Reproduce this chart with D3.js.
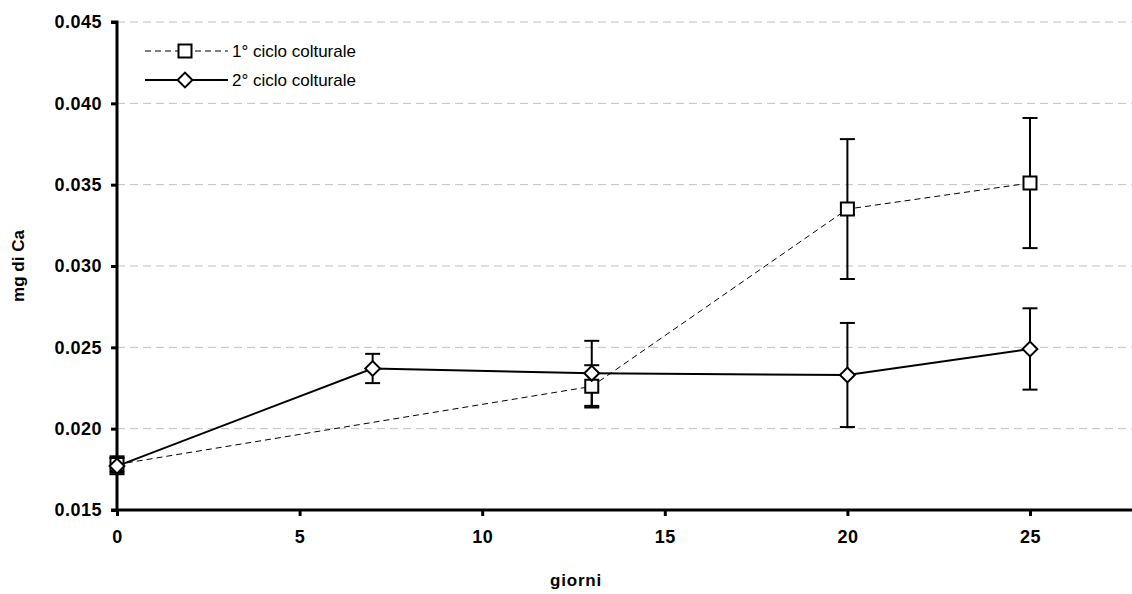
<!DOCTYPE html>
<html>
<head>
<meta charset="utf-8">
<script src="https://cdn.jsdelivr.net/npm/d3@7"></script>
<style>
  body { margin: 0; background: #fff; }
  svg { display: block; font-family: "Liberation Sans", Arial, sans-serif; }
</style>
</head>
<body>
<svg id="chart" width="1132" height="594"></svg>
<script>
// data
var days1 = [0, 13, 20, 25];            // 1° ciclo colturale
var mean1 = [0.0178, 0.0226, 0.0335, 0.0351];
var err1  = [0.0005, 0.0013, 0.0043, 0.0040];

var days2 = [0, 7, 13, 20, 25];         // 2° ciclo colturale
var mean2 = [0.0177, 0.0237, 0.0234, 0.0233, 0.0249];
var err2  = [0.0005, 0.0009, 0.0020, 0.0032, 0.0025];

var yTicks = [0.015, 0.020, 0.025, 0.030, 0.035, 0.040, 0.045];
var xTicks = [0, 5, 10, 15, 20, 25];
var seriesNames = ["1° ciclo colturale", "2° ciclo colturale"];

var svg = d3.select("#chart");
var mLeft = 117, mTop = 22, mBottom = 510;

var x = d3.scaleLinear().domain([0, 28]).range([mLeft, mLeft + 28 * 36.52]);
var y = d3.scaleLinear().domain([0.015, 0.045]).range([mBottom, mTop]);

var s1 = days1.map((d, i) => ({x: d, y: mean1[i], e: err1[i]}));
var s2 = days2.map((d, i) => ({x: d, y: mean2[i], e: err2[i]}));

// dashed gridlines
svg.append("g")
  .selectAll("line")
  .data(yTicks.slice(1))
  .join("line")
  .attr("x1", mLeft).attr("x2", 1132)
  .attr("y1", d => y(d)).attr("y2", d => y(d))
  .attr("stroke", "#c0c0c0")
  .attr("stroke-width", 1)
  .attr("stroke-dasharray", "8,5");

// axes
var yAxis = svg.append("g")
  .attr("transform", "translate(" + mLeft + ",0)")
  .call(d3.axisLeft(y).tickValues(yTicks).tickFormat(d3.format(".3f")).tickSize(6).tickPadding(9));
var xAxis = svg.append("g")
  .attr("transform", "translate(0," + mBottom + ")")
  .call(d3.axisBottom(x).tickValues(xTicks).tickSize(6).tickPadding(14));

[yAxis, xAxis].forEach(function(a) {
  a.select(".domain").attr("stroke", "#000").attr("stroke-width", 3);
  a.selectAll(".tick line").attr("stroke", "#000").attr("stroke-width", 3);
  a.selectAll(".tick text")
    .attr("fill", "#000")
    .style("font-size", "18px")
    .style("font-weight", "bold")
    .style("letter-spacing", "0.5px")
    .style("font-family", "'Liberation Sans', Arial, sans-serif");
});
yAxis.select(".domain").attr("d", "M-6," + mBottom + "H0V" + mTop + "H-6");
xAxis.select(".domain").attr("d", "M" + mLeft + ",0H1132");

// axis titles
svg.append("text")
  .attr("x", 576).attr("y", 586)
  .attr("text-anchor", "middle")
  .style("font-size", "17px").style("font-weight", "bold")
  .style("letter-spacing", "0.8px")
  .text("giorni");
svg.append("text")
  .attr("transform", "translate(24,266) rotate(-90)")
  .attr("text-anchor", "middle")
  .style("font-size", "17px").style("font-weight", "bold")
  .text("mg di Ca");

var line = d3.line().x(d => x(d.x)).y(d => y(d.y));

// lines
svg.append("path").datum(s1)
  .attr("d", line).attr("fill", "none")
  .attr("stroke", "#000").attr("stroke-width", 1)
  .attr("stroke-dasharray", "6,4");
svg.append("path").datum(s2)
  .attr("d", line).attr("fill", "none")
  .attr("stroke", "#000").attr("stroke-width", 2);

// error bars
function errorBars(data) {
  var g = svg.append("g").attr("stroke", "#000").attr("stroke-width", 2);
  g.selectAll(".v").data(data).join("line")
    .attr("x1", d => x(d.x)).attr("x2", d => x(d.x))
    .attr("y1", d => y(d.y - d.e)).attr("y2", d => y(d.y + d.e));
  g.selectAll(".t").data(data).join("line")
    .attr("x1", d => x(d.x) - 7.5).attr("x2", d => x(d.x) + 7.5)
    .attr("y1", d => y(d.y + d.e)).attr("y2", d => y(d.y + d.e));
  g.selectAll(".b").data(data).join("line")
    .attr("x1", d => x(d.x) - 7.5).attr("x2", d => x(d.x) + 7.5)
    .attr("y1", d => y(d.y - d.e)).attr("y2", d => y(d.y - d.e));
}
errorBars(s1);
errorBars(s2);

// markers
var square = d3.symbol().type(d3.symbolSquare).size(169);
var diamond = d3.symbol().type(d3.symbolSquare).size(110);

svg.append("g").selectAll("path").data(s1).join("path")
  .attr("d", square)
  .attr("transform", d => "translate(" + x(d.x) + "," + y(d.y) + ")")
  .attr("fill", "#fff").attr("stroke", "#000").attr("stroke-width", 2);
svg.append("g").selectAll("path").data(s2).join("path")
  .attr("d", diamond)
  .attr("transform", d => "translate(" + x(d.x) + "," + y(d.y) + ") rotate(45)")
  .attr("fill", "#fff").attr("stroke", "#000").attr("stroke-width", 2);

// legend
var leg = svg.append("g").attr("transform", "translate(145,51)");
leg.append("line").attr("x1", 0).attr("x2", 83).attr("y1", 0).attr("y2", 0)
  .attr("stroke", "#000").attr("stroke-width", 1).attr("stroke-dasharray", "6,4");
leg.append("path").attr("d", square).attr("transform", "translate(40,0)")
  .attr("fill", "#fff").attr("stroke", "#000").attr("stroke-width", 2);
leg.append("line").attr("x1", 0).attr("x2", 83).attr("y1", 29).attr("y2", 29)
  .attr("stroke", "#000").attr("stroke-width", 2);
leg.append("path").attr("d", diamond).attr("transform", "translate(40,29) rotate(45)")
  .attr("fill", "#fff").attr("stroke", "#000").attr("stroke-width", 2);
leg.selectAll("text").data(seriesNames).join("text")
  .attr("x", 87).attr("y", (d, i) => i * 29 + 6)
  .style("font-size", "17px")
  .text(d => d);
</script>
</body>
</html>
